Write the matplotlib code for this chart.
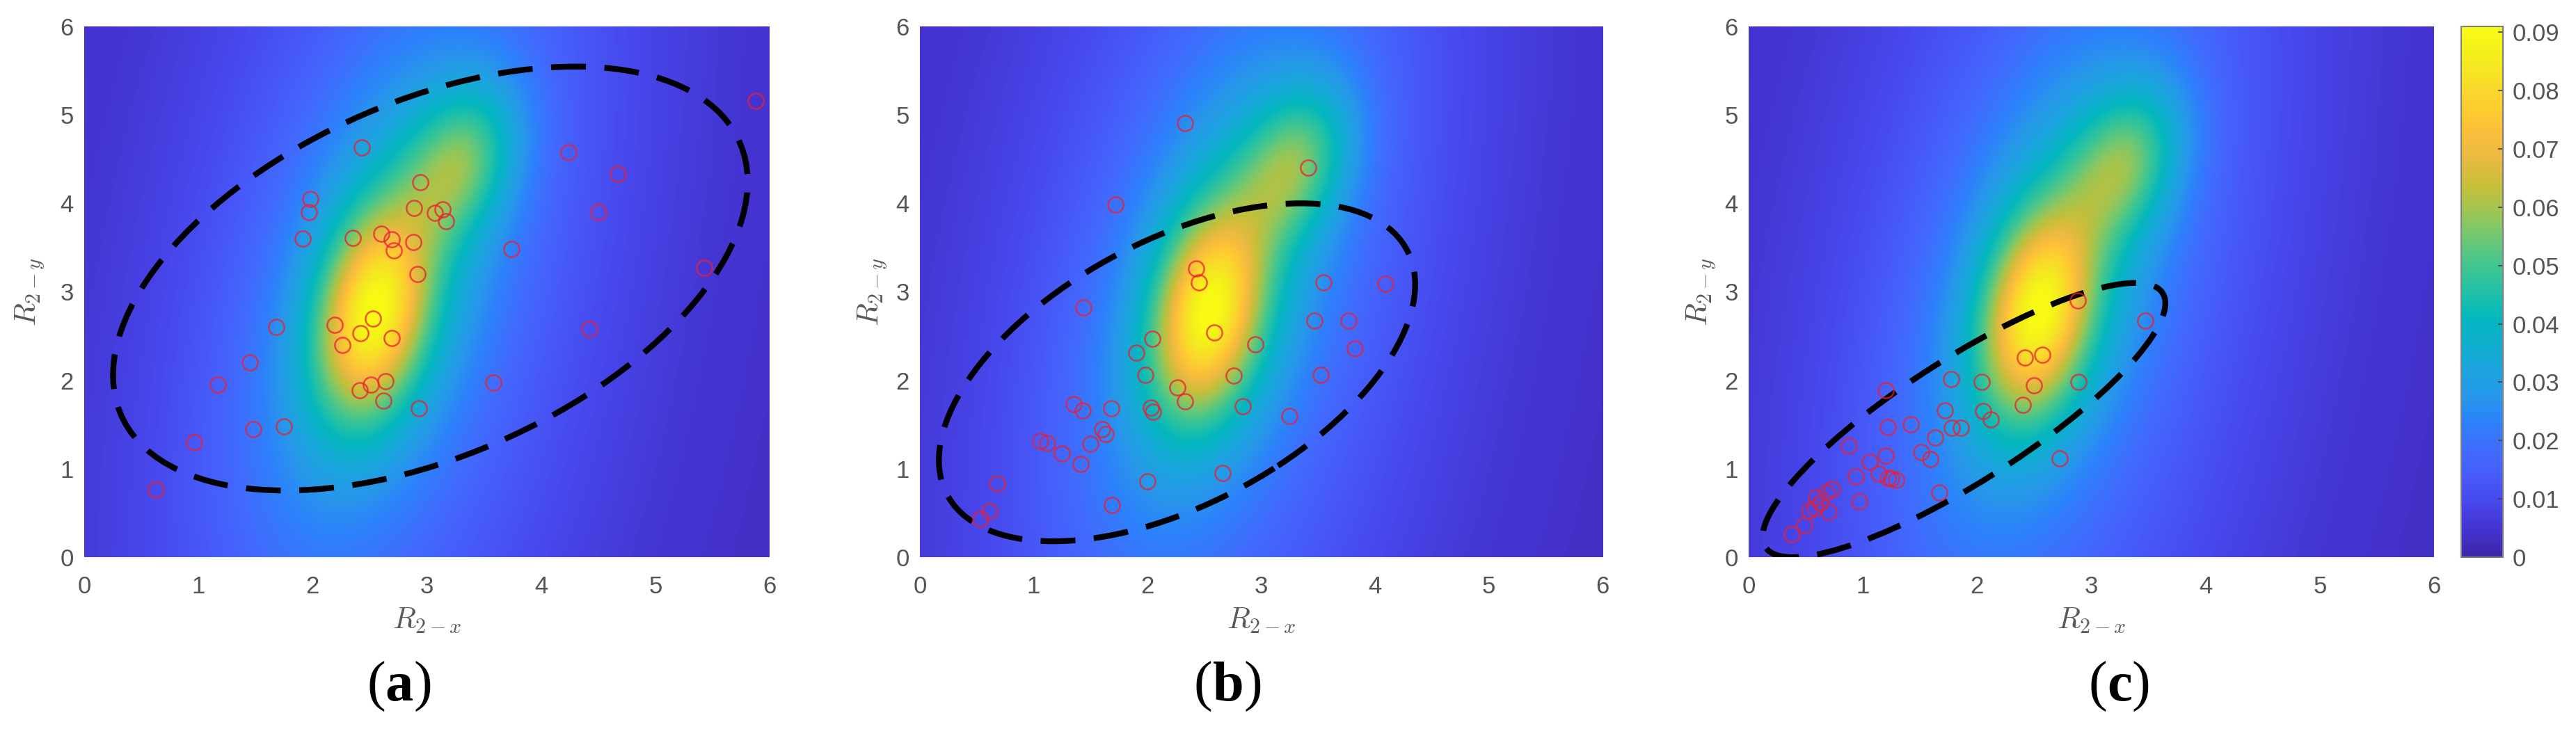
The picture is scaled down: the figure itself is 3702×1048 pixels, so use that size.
import numpy as np
import matplotlib
matplotlib.use("Agg")
import matplotlib.pyplot as plt
from matplotlib.patches import Ellipse
from matplotlib.colors import LinearSegmentedColormap

# ---------------- data ----------------
ax_ticks = [0, 1, 2, 3, 4, 5, 6]
cbar_ticks = [0, 0.01, 0.02, 0.03, 0.04, 0.05, 0.06, 0.07, 0.08, 0.09]
cbar_tick_labels = ["0", "0.01", "0.02", "0.03", "0.04", "0.05", "0.06", "0.07", "0.08", "0.09"]
cbar_max = 0.091
panel_labels = ["a", "b", "c"]

# density surface (Gaussian-mixture description of the shared heat map)
comp_mx = [2.53, 3.30, 2.65, 2.70]
comp_my = [2.75, 4.45, 3.10, 3.00]
comp_sx = [0.34, 0.34, 0.75, 1.60]
comp_sy = [0.80, 0.60, 1.90, 5.00]
comp_rho = [0.25, 0.30, 0.45, 0.40]
comp_amp = [0.052, 0.027, 0.022, 0.015]
density_floor = 0.003

# scatter points
a_x = [0.63, 0.96, 1.17, 1.45, 1.48, 1.68, 1.75, 1.91, 1.97, 1.98, 2.19, 2.26, 2.35, 2.41,
       2.42, 2.43, 2.51, 2.53, 2.60, 2.62, 2.64, 2.69, 2.69, 2.71, 2.88, 2.89, 2.92, 2.93,
       2.94, 3.07, 3.14, 3.17, 3.58, 3.74, 4.24, 4.42, 4.50, 4.67, 5.43, 5.88]
a_y = [0.76, 1.30, 1.95, 2.20, 1.45, 2.60, 1.48, 3.60, 3.90, 4.05, 2.63, 2.40, 3.61, 1.89,
       2.53, 4.63, 1.95, 2.70, 3.66, 1.77, 1.99, 3.59, 2.48, 3.47, 3.56, 3.95, 3.20, 1.68,
       4.24, 3.89, 3.93, 3.80, 1.97, 3.48, 4.58, 2.58, 3.90, 4.33, 3.27, 5.16]

b_x = [0.53, 0.61, 0.68, 1.06, 1.12, 1.25, 1.35, 1.41, 1.43, 1.44, 1.50, 1.60, 1.63, 1.68,
       1.69, 1.72, 1.90, 1.98, 2.00, 2.03, 2.05, 2.04, 2.26, 2.33, 2.33, 2.43, 2.45, 2.59,
       2.66, 2.76, 2.84, 2.95, 3.25, 3.41, 3.47, 3.52, 3.55, 3.77, 3.82, 4.09]
b_y = [0.43, 0.52, 0.83, 1.31, 1.29, 1.17, 1.73, 1.05, 1.66, 2.82, 1.28, 1.45, 1.39, 1.68,
       0.59, 3.99, 2.31, 2.06, 0.86, 1.69, 1.64, 2.47, 1.92, 1.76, 4.91, 3.26, 3.11, 2.54,
       0.95, 2.05, 1.71, 2.41, 1.60, 4.40, 2.67, 2.06, 3.11, 2.67, 2.36, 3.09]

c_x = [0.38, 0.49, 0.53, 0.58, 0.59, 0.63, 0.70, 0.68, 0.73, 0.88, 0.94, 0.97, 1.06, 1.14,
       1.20, 1.20, 1.22, 1.22, 1.25, 1.29, 1.42, 1.51, 1.59, 1.63, 1.67, 1.72, 1.77, 1.78,
       1.86, 2.04, 2.05, 2.12, 2.40, 2.42, 2.50, 2.57, 2.72, 2.88, 2.89, 3.47]
c_y = [0.26, 0.36, 0.53, 0.56, 0.68, 0.61, 0.51, 0.73, 0.77, 1.26, 0.91, 0.63, 1.08, 0.94,
       1.89, 1.15, 1.47, 0.90, 0.89, 0.87, 1.50, 1.19, 1.11, 1.35, 0.73, 1.66, 2.01, 1.46,
       1.46, 1.98, 1.65, 1.56, 1.72, 2.26, 1.94, 2.29, 1.12, 2.90, 1.98, 2.67]

# confidence ellipses: centre x, centre y, width, height, angle (deg)
ell_a = [3.03, 3.15, 6.30, 3.76, 36.0]
ell_b = [2.26, 2.09, 4.95, 2.76, 40.0]
ell_c = [1.885, 1.55, 4.52, 1.27, 40.7]

# ---------------- style ----------------
parula_anchor = [
    (0.2422, 0.1504, 0.6603), (0.2681, 0.2001, 0.8129), (0.2803, 0.2764, 0.9204),
    (0.2783, 0.3540, 0.9768), (0.2539, 0.4232, 0.9970), (0.1801, 0.5004, 0.9871),
    (0.1540, 0.5902, 0.9218), (0.1120, 0.6430, 0.8750), (0.0590, 0.6838, 0.8110),
    (0.0145, 0.7207, 0.7417), (0.1341, 0.7541, 0.6561), (0.2536, 0.7747, 0.5646),
    (0.4281, 0.7845, 0.4512), (0.6147, 0.7743, 0.3275), (0.7795, 0.7468, 0.2267),
    (0.9050, 0.7290, 0.2580), (0.9840, 0.7460, 0.2290), (0.9930, 0.8070, 0.1850),
    (0.9660, 0.8760, 0.1560), (0.9590, 0.9340, 0.1080), (0.9769, 0.9839, 0.0805)]
parula = LinearSegmentedColormap.from_list("parula_like", parula_anchor, N=256)

plt.rcParams["mathtext.fontset"] = "cm"
tick_color = "#555555"
tick_font = "Liberation Sans"

fig = plt.figure(figsize=(37.02, 10.48), dpi=100)

# density grid
gx = np.linspace(0, 6, 301)
gy = np.linspace(0, 6, 301)
GX, GY = np.meshgrid(gx, gy)
Z = np.full_like(GX, density_floor)
for mx, my, sx, sy, r, A in zip(comp_mx, comp_my, comp_sx, comp_sy, comp_rho, comp_amp):
    u = (GX - mx) / sx
    v = (GY - my) / sy
    q = (u * u + v * v - 2 * r * u * v) / (1 - r * r)
    Z += A * np.exp(-0.5 * q)

axes_rects = [
    [121 / 3702, 247 / 1048, 985 / 3702, 763 / 1048],
    [1322 / 3702, 247 / 1048, 981 / 3702, 763 / 1048],
    [2513 / 3702, 247 / 1048, 985 / 3702, 763 / 1048],
]
ylabel_x = [-0.079, -0.069, -0.069]
label_x = [574 / 3702, 1765 / 3702, 3046 / 3702]
panels = [(a_x, a_y, ell_a), (b_x, b_y, ell_b), (c_x, c_y, ell_c)]

im = None
for i, (px, py, ell) in enumerate(panels):
    ax = fig.add_axes(axes_rects[i])
    im = ax.imshow(Z, extent=(0, 6, 0, 6), origin="lower", aspect="auto", cmap=parula,
                   vmin=0, vmax=cbar_max, interpolation="bilinear", zorder=0)
    ax.add_patch(Ellipse((ell[0], ell[1]), ell[2], ell[3], angle=ell[4], fill=False,
                         edgecolor="black", lw=6, linestyle=(0, (6, 3.2)), zorder=2))
    ax.plot(px, py, linestyle="none", marker="o", markersize=16, markerfacecolor="none",
            markeredgecolor=(0.92, 0.12, 0.20, 0.75), markeredgewidth=1.8, zorder=3)
    ax.set_xlim(0, 6)
    ax.set_ylim(0, 6)
    ax.set_xticks(ax_ticks)
    ax.set_yticks(ax_ticks)
    for s in ax.spines.values():
        s.set_visible(False)
    ax.tick_params(axis="both", length=0, labelsize=25, labelcolor=tick_color)
    ax.tick_params(axis="x", pad=19)
    ax.tick_params(axis="y", pad=11)
    for t in ax.get_xticklabels() + ax.get_yticklabels():
        t.set_fontfamily(tick_font)
    ax.set_xlabel(r"$R_{2-x}$", fontsize=31, color="#5a5a5a")
    ax.xaxis.set_label_coords(0.5, -0.119)
    ax.xaxis.label.set_va("center")
    ax.set_ylabel(r"$R_{2-y}$", fontsize=31, color="#5a5a5a")
    ax.yaxis.set_label_coords(ylabel_x[i], 0.5)
    ax.yaxis.label.set_va("center")

    # sub-figure label "(x)" with bold letter
    tl = fig.text(label_x[i], 0.039, panel_labels[i], fontsize=58, fontweight="bold",
                  family="Liberation Serif", ha="center", va="baseline", color="black")
    fig.add_artist(matplotlib.text.Annotation(
        "(", xy=(0, 0), xycoords=tl, ha="right", va="bottom", fontsize=58,
        family="Liberation Serif", color="black", annotation_clip=False))
    fig.add_artist(matplotlib.text.Annotation(
        ")", xy=(1, 0), xycoords=tl, ha="left", va="bottom", fontsize=58,
        family="Liberation Serif", color="black", annotation_clip=False))

cax = fig.add_axes([3537 / 3702, 247 / 1048, 60 / 3702, 763 / 1048])
cb = fig.colorbar(im, cax=cax, ticks=cbar_ticks)
cb.set_ticklabels(cbar_tick_labels)
cb.outline.set_edgecolor("#808080")
cb.outline.set_linewidth(1.5)
cax.tick_params(direction="in", length=5, width=1.2, color="#404040", labelsize=25,
                labelcolor=tick_color, pad=10)
for t in cax.get_yticklabels():
    t.set_fontfamily(tick_font)

fig.savefig("out.png", dpi=100)
